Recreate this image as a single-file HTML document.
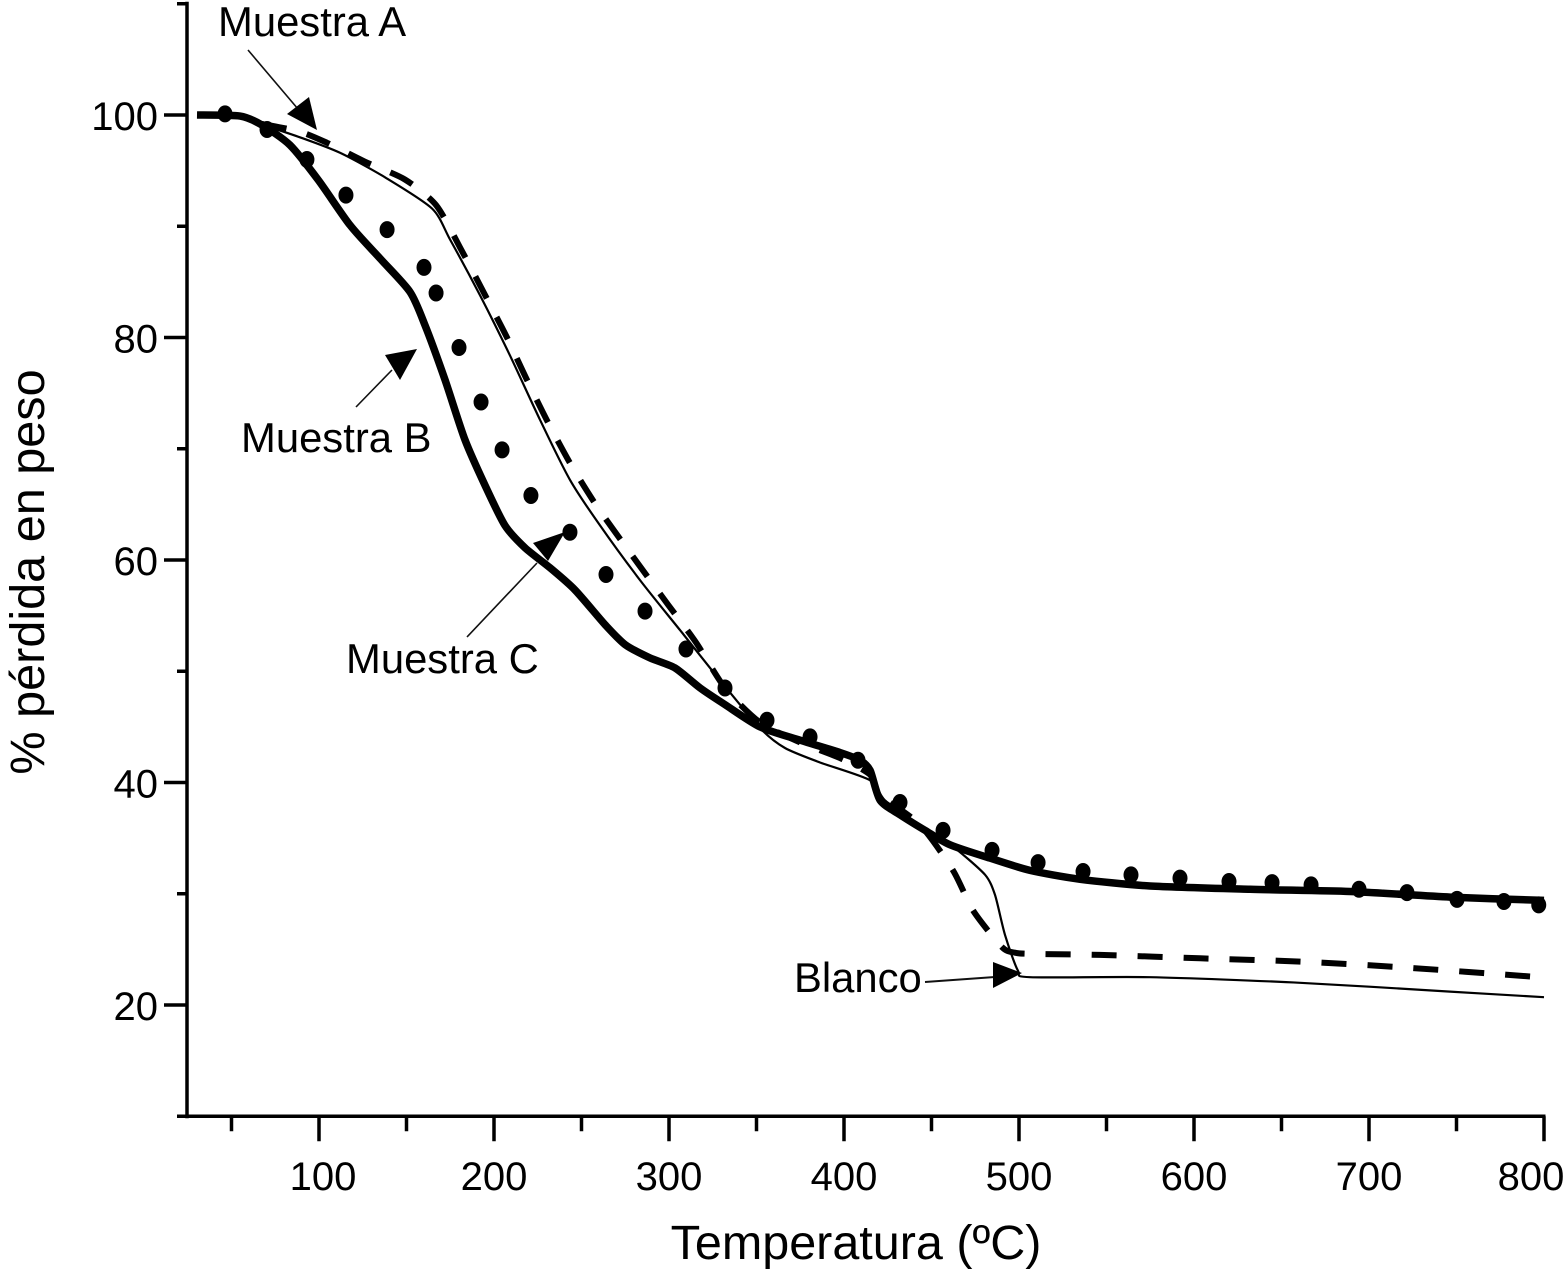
<!DOCTYPE html>
<html lang="es">
<head>
<meta charset="utf-8">
<title>% pérdida en peso vs Temperatura</title>
<style>
html,body{margin:0;padding:0;background:#fff;width:1567px;height:1270px;overflow:hidden}
svg{display:block}
text{font-family:"Liberation Sans",Arial,sans-serif;fill:#000}
</style>
</head>
<body>
<svg id="chart" xmlns="http://www.w3.org/2000/svg" width="1567" height="1270" viewBox="0 0 1567 1270">
  <rect x="0" y="0" width="1567" height="1270" fill="#fff"/>
  <g id="axes"></g>
  <g id="series"></g>

  <text transform="translate(44,572) rotate(-90)" text-anchor="middle" font-size="48.6">% pérdida en peso</text>
  <text x="856" y="1259" text-anchor="middle" font-size="48.5">Temperatura (ºC)</text>

  <g>
    <text x="218" y="36" font-size="41.8">Muestra A</text>
    <line x1="248" y1="50" x2="298" y2="109" stroke="#111" stroke-width="1.6"/>
    <polygon points="287,114 309,97 317,130" fill="#000"/>
  </g>
  <g>
    <text x="241" y="452" font-size="41.8">Muestra B</text>
    <line x1="356" y1="407" x2="392" y2="370" stroke="#111" stroke-width="1.6"/>
    <polygon points="417,349 400,380 385,355" fill="#000"/>
  </g>
  <g>
    <text x="346" y="673" font-size="41.8">Muestra C</text>
    <line x1="467" y1="637" x2="537" y2="563" stroke="#111" stroke-width="1.6"/>
    <polygon points="565,532 548,561 533,543" fill="#000"/>
  </g>
  <g>
    <text x="794" y="992" font-size="41.8">Blanco</text>
    <line x1="925" y1="982" x2="995" y2="977" stroke="#111" stroke-width="2"/>
    <polygon points="1022,973 993,988 993,962" fill="#000"/>
  </g>
</svg>
<script>
// ---- Data ----
const xMajorTicks = [100, 200, 300, 400, 500, 600, 700, 800];
const xMinorTicks = [50, 150, 250, 350, 450, 550, 650, 750];
const yMajorTicks = [100, 80, 60, 40, 20];
const yMinorTicks = [110, 90, 70, 50, 30, 10];

// Muestra B: thick solid curve
const muestraBTemp = [30.3,54.9,67.4,83.4,99.4,117.7,134.9,152,160.6,172,183.4,194.9,206.3,217.7,232,246.3,263.4,274.9,289.1,303.4,317.7,332,352,374.9,397.7,409.1,414.9,420.6,432,446.3,460.6,483.4,506.3,534.9,574.9,632,689.1,746.3,800];
const muestraBLoss = [100,99.9,99.1,97.3,94.2,90.1,87.1,84.1,81.1,76.2,70.8,66.7,63.1,61.1,59.3,57.3,54.2,52.4,51.2,50.3,48.5,47,45,43.8,42.7,42,41.1,38.4,37.1,35.7,34.4,33.2,32.1,31.3,30.7,30.4,30.2,29.7,29.4];

// Blanco: thin solid curve
const blancoTemp = [66.3,89.1,112,137.7,164.6,174.9,192,209.1,226.3,243.4,260.6,283.4,306.3,329.1,352,366.3,386.3,414.9,423.4,443.4,463.4,480.6,486.3,492,499.4,506.3,574.9,660.6,746.3,800];
const blancoLoss = [99.2,98,96.6,94.4,91.6,88.8,83.8,78.4,72.6,67.2,63.1,58.2,53.7,49.2,44.9,43.1,41.8,40.2,38.4,36.2,34.1,31.7,29.9,26.3,23.1,22.5,22.5,22,21.2,20.7];

// Muestra A: dashed curve
const muestraATemp = [67.4,89.1,104.6,126.3,149.1,166.9,180.6,194.3,207.4,219.4,231.4,244.6,258.9,278.9,299.4,315.4,332,352,374.9,397.7,414.9,420.6,443.4,462.3,473.7,490.3,497.7,506.3,546.3,603.4,660.6,717.7,797.7];
const muestraALoss = [99.2,98.5,97.5,95.8,94.2,91.9,88.1,84,80,76,72.2,68.4,64.8,60.4,56,52.6,48.5,45.4,43.6,42.2,40.7,38.9,36.2,32.1,28.5,25.2,24.7,24.6,24.5,24.2,23.9,23.4,22.5];

// Muestra C: large dots
const muestraCTemp = [46.3,70.3,93.1,115.4,138.9,160,166.9,180,192.6,204.6,221.1,243.4,264,286.3,309.7,332,356,380.6,408,432,456.6,484.6,510.9,536.6,564,592,620,644.6,666.9,694.3,721.7,750.3,777.1,797];
const muestraCLoss = [100.1,98.7,96,92.8,89.7,86.3,84,79.1,74.2,69.9,65.8,62.5,58.7,55.4,52,48.5,45.6,44.1,42,38.2,35.7,33.9,32.8,32,31.7,31.4,31.1,31,30.8,30.4,30.1,29.5,29.3,29];

// ---- Axis functions ----
function xScale(t){ return 319 + (t - 100) * 1.75; }
function yScale(v){ return 115 + (100 - v) * 11.125; }

const NS = 'http://www.w3.org/2000/svg';
function make(tag, parent){
  const el = document.createElementNS(NS, tag);
  parent.appendChild(el);
  return el;
}
// Gently smoothed curve through the data points
function pathFrom(xs, ys){
  const px = xs.map(xScale);
  const py = ys.map(yScale);
  const k = 1 / 8;
  let d = 'M' + px[0].toFixed(1) + ' ' + py[0].toFixed(1);
  for (let i = 0; i < px.length - 1; i++) {
    const a = Math.max(i - 1, 0);
    const b = Math.min(i + 2, px.length - 1);
    const c1x = px[i] + (px[i + 1] - px[a]) * k;
    const c1y = py[i] + (py[i + 1] - py[a]) * k;
    const c2x = px[i + 1] - (px[b] - px[i]) * k;
    const c2y = py[i + 1] - (py[b] - py[i]) * k;
    d += ' C' + c1x.toFixed(1) + ' ' + c1y.toFixed(1) + ' ' + c2x.toFixed(1) + ' ' + c2y.toFixed(1) + ' ' + px[i + 1].toFixed(1) + ' ' + py[i + 1].toFixed(1);
  }
  return d;
}

const axes = document.getElementById('axes');
const series = document.getElementById('series');

// Axis lines
const yLine = make('line', axes);


yLine.setAttribute('x1', 187); yLine.setAttribute('x2', 187);
yLine.setAttribute('y1', yScale(110) - 2); yLine.setAttribute('y2', yScale(10) + 2);
yLine.setAttribute('stroke', '#000'); yLine.setAttribute('stroke-width', 3.5);

const xLine = make('line', axes);


xLine.setAttribute('x1', 185); xLine.setAttribute('x2', xScale(800) + 1.5);
xLine.setAttribute('y1', yScale(10)); xLine.setAttribute('y2', yScale(10));
xLine.setAttribute('stroke', '#000'); xLine.setAttribute('stroke-width', 3.5);

// X ticks
xMajorTicks.forEach(function(t){
  const tick = make('line', axes);
  
  
  tick.setAttribute('x1', xScale(t)); tick.setAttribute('x2', xScale(t));
  tick.setAttribute('y1', yScale(10)); tick.setAttribute('y2', yScale(10) + 25);
  tick.setAttribute('stroke', '#000'); tick.setAttribute('stroke-width', 3.5);
  const label = make('text', axes);
  
  
  label.setAttribute('x', Math.min(Math.max(xScale(t), 323), 1531));
  label.setAttribute('y', 1190);
  label.setAttribute('text-anchor', 'middle');
  label.setAttribute('font-size', 40);
  label.textContent = t;
});
xMinorTicks.forEach(function(t){
  const tick = make('line', axes);
  
  
  tick.setAttribute('x1', xScale(t)); tick.setAttribute('x2', xScale(t));
  tick.setAttribute('y1', yScale(10)); tick.setAttribute('y2', yScale(10) + 15);
  tick.setAttribute('stroke', '#000'); tick.setAttribute('stroke-width', 3.5);
});

// Y ticks
yMajorTicks.forEach(function(v){
  const tick = make('line', axes);
  
  
  tick.setAttribute('x1', 164); tick.setAttribute('x2', 187);
  tick.setAttribute('y1', yScale(v)); tick.setAttribute('y2', yScale(v));
  tick.setAttribute('stroke', '#000'); tick.setAttribute('stroke-width', 3.5);
  const label = make('text', axes);
  
  
  label.setAttribute('x', 158);
  label.setAttribute('y', yScale(v) + 15);
  label.setAttribute('text-anchor', 'end');
  label.setAttribute('font-size', 40);
  label.textContent = v;
});
yMinorTicks.forEach(function(v){
  const tick = make('line', axes);
  
  
  tick.setAttribute('x1', 177); tick.setAttribute('x2', 187);
  tick.setAttribute('y1', yScale(v)); tick.setAttribute('y2', yScale(v));
  tick.setAttribute('stroke', '#000'); tick.setAttribute('stroke-width', 3.5);
});

// Series
const blancoPath = make('path', series);


blancoPath.setAttribute('d', pathFrom(blancoTemp, blancoLoss));
blancoPath.setAttribute('fill', 'none');
blancoPath.setAttribute('stroke', '#000');
blancoPath.setAttribute('stroke-width', 2.2);
blancoPath.setAttribute('stroke-linejoin', 'round');

const muestraAPath = make('path', series);


muestraAPath.setAttribute('d', pathFrom(muestraATemp, muestraALoss));
muestraAPath.setAttribute('fill', 'none');
muestraAPath.setAttribute('stroke', '#000');
muestraAPath.setAttribute('stroke-width', 6);
muestraAPath.setAttribute('stroke-dasharray', '25 21');

const muestraBPath = make('path', series);


muestraBPath.setAttribute('d', pathFrom(muestraBTemp, muestraBLoss));
muestraBPath.setAttribute('fill', 'none');
muestraBPath.setAttribute('stroke', '#000');
muestraBPath.setAttribute('stroke-width', 7.5);
muestraBPath.setAttribute('stroke-linejoin', 'round');

muestraCTemp.forEach(function(t, i){
  const dot = make('ellipse', series);
  
  
  dot.setAttribute('cx', xScale(t));
  dot.setAttribute('cy', yScale(muestraCLoss[i]));
  dot.setAttribute('rx', 7.5);
  dot.setAttribute('ry', 8.5);
  dot.setAttribute('fill', '#000');
});
</script>
</body>
</html>
